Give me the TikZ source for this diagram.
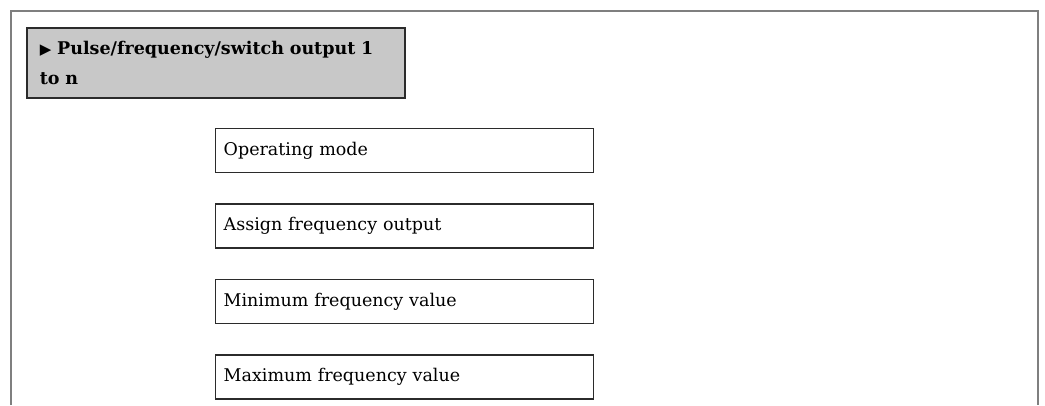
\documentclass[tikz,border=0pt]{standalone}
\usepackage{fontspec}
\setmainfont{DejaVu Serif}
\newfontfamily\symbfont{DejaVu Sans}
\usepackage{tikz}
\usetikzlibrary{positioning}
\definecolor{framegray}{HTML}{7F7F7F}
\definecolor{headfill}{HTML}{C8C8C8}
\definecolor{boxline}{HTML}{2B2B2B}

\begin{document}
\begin{tikzpicture}[
    x=1pt,y=-1pt,
    node distance=30pt,
    menu/.style={draw=boxline,line width=1.6pt,fill=headfill,anchor=north west,
      minimum width=378pt,minimum height=70pt,text width=352pt,inner xsep=13pt,
      align=left,font=\fontsize{17.5}{30}\selectfont\bfseries},
    param/.style={draw=boxline,line width=1.4pt,fill=white,minimum width=378pt,
      minimum height=44pt,text width=362pt,inner xsep=8pt,align=left,
      font=\fontsize{17.5}{20}\selectfont}
]
    \useasboundingbox (0,0) rectangle (1045,405);
    % outer frame, open at the bottom
    \draw[framegray,line width=1.4pt] (11,405) -- (11,11) -- (1038,11) -- (1038,405);

    \node[menu] (pfs) at (26,27) {{\symbfont\mdseries\fontsize{15}{15}\selectfont ▶}\ Pulse/frequency/switch output 1\\to n};

    \node[param,anchor=north west] (opmode) at (215,128) {Operating mode};
    \node[param,below=of opmode] (assign) {Assign frequency output};
    \node[param,below=of assign] (minfreq) {Minimum frequency value};
    \node[param,below=of minfreq] (maxfreq) {Maximum frequency value};
\end{tikzpicture}
\end{document}
